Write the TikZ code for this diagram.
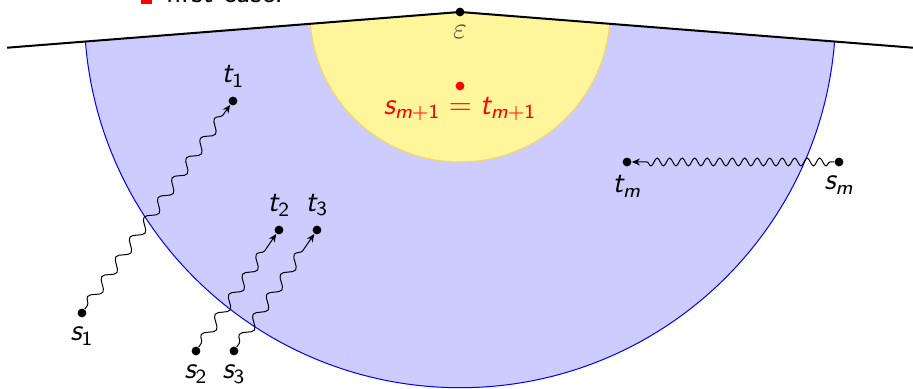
\documentclass[tikz,border=0pt]{standalone}
\usepackage{amsmath}
\usepackage{xcolor}
\usetikzlibrary{arrows.meta,positioning,decorations.pathmorphing}

\definecolor{ballfill}{RGB}{255,245,155}
\definecolor{balledge}{RGB}{250,215,90}
% sans italic letters for the labels
\newcommand{\sv}[1]{\textit{#1}}

\begin{document}
\begin{tikzpicture}[every node/.style={font=\large\sffamily}, dot/.style={circle,fill,inner sep=0pt,minimum size=3.5pt}, walk/.style={decorate,decoration={snake,amplitude=0.7mm,segment length=3.4mm,pre length=0.6mm,post length=1.6mm},-{Stealth[length=3.2pt,width=2.8pt]}}, hwalk/.style={walk,decoration={snake,amplitude=0.55mm,segment length=1.75mm,pre length=0.6mm,post length=1.6mm}}]
    \useasboundingbox (-6.44,0.168) rectangle (6.342,-5.278);
    \clip (-6.44,0.168) rectangle (6.342,-5.278);

    % half line through epsilon
    \coordinate (lft) at (-6.34,-0.50);
    \coordinate (rgt) at (6.34,-0.50);

    \begin{scope}
      \clip (lft) -- (0,0) -- (rgt) -- (6.34,-5.4) -- (-6.34,-5.4) -- cycle;
      \filldraw[draw=blue, fill=blue!20] (0,0) circle (5.26);
      \filldraw[draw=balledge, fill=ballfill] (0,0) circle (2.1);
    \end{scope}

    % cropped item from the slide above
    \node[fill=red, inner sep=0pt, minimum size=4.6pt] (bul) at (-4.39,0.19) {};
    \node[anchor=base west, inner sep=0pt] (case) at (-4.13,0.135) {first case.};

    \node[dot] (eps) at (0,0) {};
    \draw[thick] (lft) -- (eps.center) -- (rgt);
    \node[below=0pt of eps, text=black!75] (epslab) {$\varepsilon$};

    \node[dot, red] (st) at (0,-1.036) {};
    \node[below=-1pt of st, text=red] (stlab) {$\sv{s}_{\sv{m}\textsf{+1}} = \sv{t}_{\sv{m}\textsf{+1}}$};

    \node[dot] (t1) at (-3.178,-1.246) {};
    \node[dot] (s1) at (-5.292,-4.214) {};
    \node[dot] (t2) at (-2.534,-3.052) {};
    \node[dot] (t3) at (-2.002,-3.052) {};
    \node[dot] (s2) at (-3.696,-4.746) {};
    \node[dot] (s3) at (-3.164,-4.746) {};
    \node[dot] (tm) at (2.338,-2.10) {};
    \node[dot] (sm) at (5.306,-2.10) {};

    \node[above=0pt of t1] {$\sv{t}_{\textsf{1}}$};
    \node[above=0pt of t2] {$\sv{t}_{\textsf{2}}$};
    \node[above=0pt of t3] {$\sv{t}_{\textsf{3}}$};
    \node[below=0pt of s1] {$\sv{s}_{\textsf{1}}$};
    \node[below=0pt of s2] {$\sv{s}_{\textsf{2}}$};
    \node[below=0pt of s3] {$\sv{s}_{\textsf{3}}$};
    \node[below=0pt of tm] {$\sv{t}_{\sv{m}}$};
    \node[below=0pt of sm] {$\sv{s}_{\sv{m}}$};

    \draw[walk] (s1) -- (t1);
    \draw[walk] (s2) -- (t2);
    \draw[walk] (s3) -- (t3);
    \draw[hwalk] (sm) -- (tm);
\end{tikzpicture}
\end{document}
